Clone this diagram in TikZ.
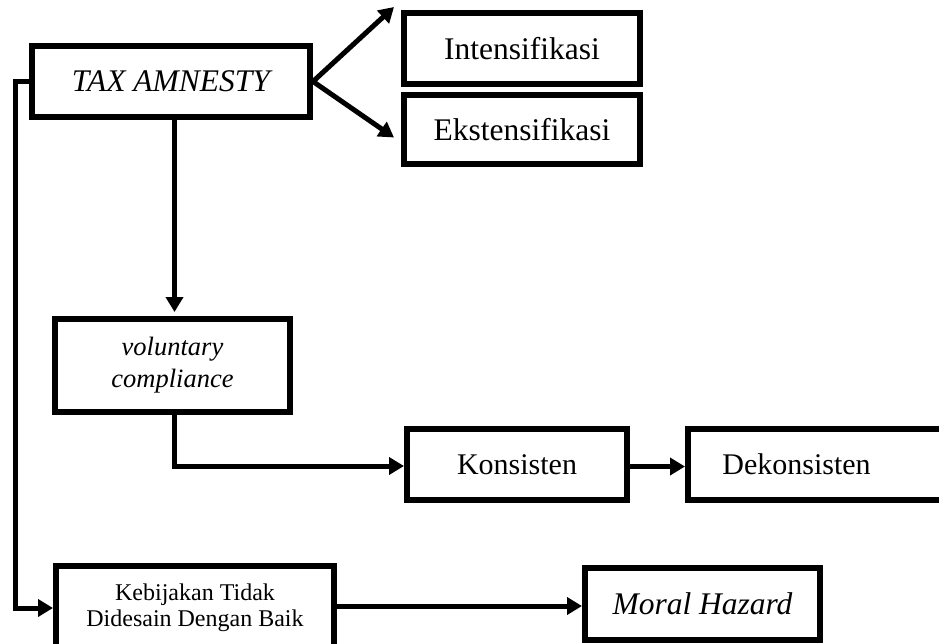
\documentclass[tikz,border=0pt]{standalone}
\usepackage{fontspec}
\setmainfont{Liberation Serif}
\usetikzlibrary{arrows.meta,calc}
\begin{document}
\begin{tikzpicture}[x=1pt,y=-1pt,
  box/.style={draw, line width=6pt, inner sep=0pt, align=center},
  link/.style={line width=5pt, -{Triangle[length=15pt,width=17pt]}},
  big/.style={font=\fontsize{31.5}{36}\selectfont},
  mid/.style={font=\fontsize{30}{34}\selectfont},
  small/.style={font=\fontsize{26.5}{32}\selectfont},
  tiny/.style={font=\fontsize{24}{26}\selectfont}]
\useasboundingbox (0,0) rectangle (939,643);
\clip (0,0) rectangle (939,643);

% boxes
\node[box, big, minimum width=278, minimum height=71] (tax) at (171,81.5) {\itshape TAX AMNESTY};
\node[box, big, minimum width=236, minimum height=71] (int) at (522,48.5) {Intensifikasi};
\node[box, big, minimum width=236, minimum height=69] (eks) at (522,129.5) {Ekstensifikasi};
\node[box, small, minimum width=235, minimum height=93] (vol) at (172.5,365.5) {\itshape voluntary\\\itshape compliance};
\node[box, mid, minimum width=220, minimum height=71] (kon) at (517,464.5) {Konsisten};
\node[box, minimum width=262, minimum height=71] (dek) at (819,464.5) {};
\node[mid, inner sep=0pt] (dektxt) at (796.5,464.5) {Dekonsisten};
\node[box, tiny, minimum width=278, minimum height=84] (keb) at (195,608) {Kebijakan Tidak\\Didesain Dengan Baik};
\node[box, big, minimum width=235, minimum height=72] (mor) at (702.5,604) {\itshape Moral Hazard};

% connectors
\draw[link] (tax.east) -- ([shift={(-7,-3)}]int.north west);
\draw[link] (tax.east) -- ([shift={(-7,8)}]eks.west);
\draw[link] ([xshift=2pt]vol.north |- tax.south) -- ([xshift=2pt,yshift=4pt]vol.north);
\draw[link] ([xshift=2pt]vol.south) |- ([yshift=-1.5pt]kon.west);
\draw[link] ([yshift=-2pt]kon.east) -- ([yshift=-2pt]kon.east -| dek.west);
\draw[link] (tax.west) -- ++(-14,0) |- (keb.west);
\draw[link] ([yshift=2pt]keb.east) -- ([yshift=2pt]keb.east -| mor.west);
\end{tikzpicture}
\end{document}
